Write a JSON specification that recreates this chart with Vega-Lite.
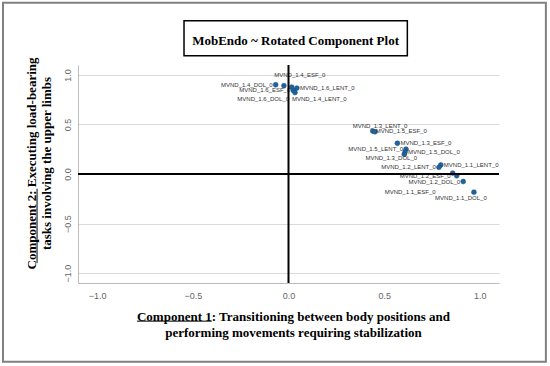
{
  "$schema": "https://vega.github.io/schema/vega-lite/v6.json",
  "width": 421,
  "height": 218,
  "autosize": {"type": "none"},
  "padding": {"left": 78, "top": 65, "right": 51, "bottom": 83},
  "background": "white",
  "config": {"view": {"stroke": null}, "font": "Liberation Sans"},
  "datasets": {
    "loadings": [
      {"name": "MVND_1.4_DOL_0", "c1": -0.067, "c2": 0.900},
      {"name": "MVND_1.4_LENT_0", "c1": -0.024, "c2": 0.890},
      {"name": "MVND_1.4_ESF_0", "c1": 0.017, "c2": 0.877},
      {"name": "MVND_1.6_LENT_0", "c1": 0.044, "c2": 0.867},
      {"name": "MVND_1.6_ESF_0", "c1": 0.025, "c2": 0.843},
      {"name": "MVND_1.6_DOL_0", "c1": 0.034, "c2": 0.822},
      {"name": "MVND_1.5_ESF_0", "c1": 0.440, "c2": 0.433},
      {"name": "MVND_1.3_LENT_0", "c1": 0.452, "c2": 0.426},
      {"name": "MVND_1.3_ESF_0", "c1": 0.569, "c2": 0.310},
      {"name": "MVND_1.5_LENT_0", "c1": 0.614, "c2": 0.251},
      {"name": "MVND_1.5_DOL_0", "c1": 0.609, "c2": 0.221},
      {"name": "MVND_1.3_DOL_0", "c1": 0.605, "c2": 0.199},
      {"name": "MVND_1.1_LENT_0", "c1": 0.796, "c2": 0.091},
      {"name": "MVND_1.2_LENT_0", "c1": 0.786, "c2": 0.067},
      {"name": "MVND_1.2_ESF_0", "c1": 0.858, "c2": 0.009},
      {"name": "MVND_1.1_ESF_0", "c1": 0.879, "c2": -0.018},
      {"name": "MVND_1.2_DOL_0", "c1": 0.913, "c2": -0.076},
      {"name": "MVND_1.1_DOL_0", "c1": 0.969, "c2": -0.183}
    ]
  },
  "data": {"name": "loadings"},
  "layer": [
    {
      "data": {"values": [{}]},
      "mark": {"type": "rect", "filled": false, "stroke": "#808080", "strokeWidth": 2},
      "encoding": {
        "x": {"datum": -1.492, "type": "quantitative"},
        "x2": {"datum": 1.345},
        "y": {"datum": 1.728, "type": "quantitative"},
        "y2": {"datum": -1.895}
      }
    },
    {
      "data": {"values": [{}]},
      "mark": {"type": "rect", "filled": false, "stroke": "black", "strokeWidth": 1.5},
      "encoding": {
        "x": {"datum": -0.546, "type": "quantitative"},
        "x2": {"datum": 0.621},
        "y": {"datum": 1.546, "type": "quantitative"},
        "y2": {"datum": 1.193}
      }
    },
    {
      "data": {"values": [{}]},
      "mark": {"type": "text", "text": "MobEndo ~ Rotated Component Plot", "font": "Liberation Serif", "fontSize": 13, "fontWeight": "bold", "color": "black", "align": "center", "baseline": "alphabetic"},
      "encoding": {
        "x": {"datum": 0.037, "type": "quantitative"},
        "y": {"datum": 1.30, "type": "quantitative"}
      }
    },
    {
      "data": {"values": [{}]},
      "mark": {"type": "rule", "color": "black", "strokeWidth": 1},
      "encoding": {
        "x": {"datum": -0.792, "type": "quantitative"},
        "x2": {"datum": -0.401},
        "y": {"datum": -1.485, "type": "quantitative"}
      }
    },
    {
      "data": {"values": [{}]},
      "mark": {"type": "rule", "color": "black", "strokeWidth": 1},
      "encoding": {
        "x": {"datum": -1.314, "type": "quantitative"},
        "y": {"datum": -0.899, "type": "quantitative"},
        "y2": {"datum": -0.149}
      }
    },
    {
      "encoding": {
        "x": {
          "field": "c1", "type": "quantitative",
          "scale": {"domain": [-1.1, 1.1], "nice": false, "zero": false},
          "axis": {
            "values": [-1, -0.5, 0, 0.5, 1], "format": ".1f", "grid": false, "ticks": false,
            "domainColor": "#bdbdbd", "labelColor": "#666666", "labelFontSize": 9, "labelPadding": 8,
            "title": ["Component 1: Transitioning between body positions and", "performing movements requiring stabilization"],
            "titleFont": "Liberation Serif", "titleFontSize": 13, "titleFontWeight": "bold", "titleColor": "black",
            "titleLineHeight": 16, "titlePadding": 10, "titleX": 215
          }
        },
        "y": {
          "field": "c2", "type": "quantitative",
          "scale": {"domain": [-1.1, 1.1], "nice": false, "zero": false},
          "axis": {
            "values": [-1, -0.5, 0, 0.5, 1], "format": ".1f", "grid": true, "gridColor": "#d9d9d9", "ticks": false,
            "domainColor": "#bdbdbd", "labelColor": "#666666", "labelFontSize": 9, "labelAngle": -90, "labelPadding": 6,
            "title": ["Component 2: Executing load-bearing", "tasks involving the upper limbs"],
            "titleFont": "Liberation Serif", "titleFontSize": 13, "titleFontWeight": "bold", "titleColor": "black",
            "titleLineHeight": 15, "titlePadding": 10, "titleY": 98
          }
        }
      },
      "layer": [
        {"mark": {"type": "circle", "size": 24, "color": "#1f639e", "opacity": 1, "stroke": "#174a78", "strokeWidth": 0.5}},
        {
          "transform": [{"filter": {"field": "name", "oneOf": ["MVND_1.6_LENT_0", "MVND_1.5_ESF_0", "MVND_1.3_ESF_0", "MVND_1.5_DOL_0", "MVND_1.1_LENT_0"]}}],
          "mark": {"type": "text", "align": "left", "baseline": "middle", "dx": 3, "fontSize": 6, "color": "#333333"},
          "encoding": {"text": {"field": "name"}}
        },
        {
          "transform": [{"filter": {"field": "name", "oneOf": ["MVND_1.4_DOL_0", "MVND_1.6_ESF_0", "MVND_1.5_LENT_0", "MVND_1.2_LENT_0", "MVND_1.2_DOL_0"]}}],
          "mark": {"type": "text", "align": "right", "baseline": "middle", "dx": -3, "fontSize": 6, "color": "#333333"},
          "encoding": {"text": {"field": "name"}}
        },
        {
          "transform": [{"filter": {"field": "name", "equal": "MVND_1.4_ESF_0"}}],
          "mark": {"type": "text", "align": "center", "baseline": "middle", "dx": 8, "dy": -12, "fontSize": 6, "color": "#333333"},
          "encoding": {"text": {"field": "name"}}
        },
        {
          "transform": [{"filter": {"field": "name", "equal": "MVND_1.3_LENT_0"}}],
          "mark": {"type": "text", "align": "center", "baseline": "middle", "dx": 5, "dy": -6, "fontSize": 6, "color": "#333333"},
          "encoding": {"text": {"field": "name"}}
        },
        {
          "transform": [{"filter": {"field": "name", "equal": "MVND_1.6_DOL_0"}}],
          "mark": {"type": "text", "align": "right", "baseline": "middle", "dx": -6, "dy": 6, "fontSize": 6, "color": "#333333"},
          "encoding": {"text": {"field": "name"}}
        },
        {
          "transform": [{"filter": {"field": "name", "equal": "MVND_1.4_LENT_0"}}],
          "mark": {"type": "text", "align": "left", "baseline": "middle", "dx": 8, "dy": 13, "fontSize": 6, "color": "#333333"},
          "encoding": {"text": {"field": "name"}}
        },
        {
          "transform": [{"filter": {"field": "name", "equal": "MVND_1.3_DOL_0"}}],
          "mark": {"type": "text", "align": "center", "baseline": "middle", "dx": -13, "dy": 4, "fontSize": 6, "color": "#333333"},
          "encoding": {"text": {"field": "name"}}
        },
        {
          "transform": [{"filter": {"field": "name", "equal": "MVND_1.2_ESF_0"}}],
          "mark": {"type": "text", "align": "right", "baseline": "middle", "dx": -2, "dy": 3, "fontSize": 6, "color": "#333333"},
          "encoding": {"text": {"field": "name"}}
        },
        {
          "transform": [{"filter": {"field": "name", "equal": "MVND_1.1_ESF_0"}}],
          "mark": {"type": "text", "align": "right", "baseline": "middle", "dx": -21, "dy": 16, "fontSize": 6, "color": "#333333"},
          "encoding": {"text": {"field": "name"}}
        },
        {
          "transform": [{"filter": {"field": "name", "equal": "MVND_1.1_DOL_0"}}],
          "mark": {"type": "text", "align": "center", "baseline": "middle", "dx": -13, "dy": 6, "fontSize": 6, "color": "#333333"},
          "encoding": {"text": {"field": "name"}}
        }
      ]
    },
    {
      "data": {"values": [{}]},
      "mark": {"type": "rule", "color": "black", "strokeWidth": 2},
      "encoding": {"x": {"datum": 0, "type": "quantitative"}}
    },
    {
      "data": {"values": [{}]},
      "mark": {"type": "rule", "color": "black", "strokeWidth": 2},
      "encoding": {"y": {"datum": 0, "type": "quantitative"}}
    }
  ]
}
